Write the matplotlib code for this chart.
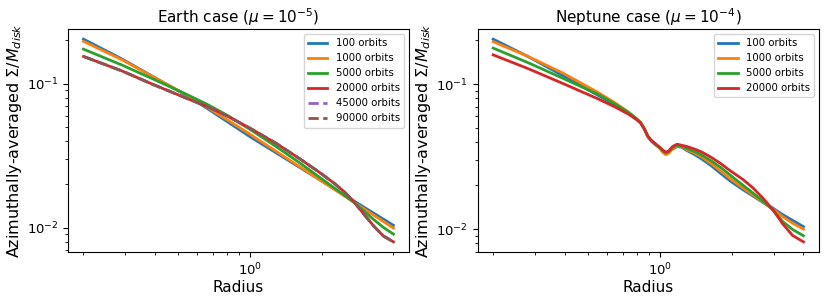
import numpy as np
import matplotlib
matplotlib.use('Agg')
import matplotlib.pyplot as plt

# radius samples
r_earth = [0.2, 0.29, 0.39, 0.55, 0.66, 0.8, 1.0, 1.29, 1.63, 1.98, 2.25, 2.48, 2.72, 3.0, 3.3, 3.63, 4.0]
r_nep = [0.2, 0.28, 0.39, 0.55, 0.65, 0.74, 0.8, 0.83, 0.86, 0.89, 0.92, 0.95, 0.99, 1.03, 1.06, 1.09,
         1.13, 1.18, 1.23, 1.3, 1.4, 1.5, 1.65, 1.8, 1.97, 2.23, 2.46, 2.7, 2.97, 3.27, 3.6, 4.0]

# Earth case (mu = 1e-5)
e_100 = [0.203, 0.148, 0.1121, 0.0814, 0.0673, 0.0546, 0.0428, 0.0330, 0.02598, 0.02129, 0.01869,
         0.01692, 0.0154, 0.01394, 0.01265, 0.01148, 0.0104]
e_1000 = [0.196, 0.146, 0.1120, 0.0822, 0.0685, 0.0562, 0.0445, 0.0338, 0.02625, 0.02128, 0.01853,
          0.01669, 0.0151, 0.01358, 0.01226, 0.01106, 0.00996]
e_5000 = [0.173, 0.1343, 0.1079, 0.0831, 0.0718, 0.0604, 0.0481, 0.0365, 0.0279, 0.0221, 0.01897,
          0.0169, 0.01507, 0.01313, 0.01144, 0.01006, 0.00904]
e_20000 = [0.154, 0.1223, 0.0988, 0.0782, 0.0693, 0.0597, 0.0490, 0.0384, 0.02983, 0.02389, 0.02042,
           0.01785, 0.01526, 0.01248, 0.01031, 0.00877, 0.00799]
e_45000 = [0.154, 0.1223, 0.0988, 0.0782, 0.0693, 0.0597, 0.0490, 0.0384, 0.02983, 0.02389, 0.02042,
           0.01785, 0.01526, 0.01248, 0.01031, 0.00877, 0.00799]
e_90000 = [0.154, 0.1223, 0.0988, 0.0782, 0.0693, 0.0597, 0.0490, 0.0384, 0.02983, 0.02389, 0.02042,
           0.01785, 0.01526, 0.01248, 0.01031, 0.00877, 0.00799]

# Neptune case (mu = 1e-4), gap carved near r = 1
n_100 = [0.204, 0.1548, 0.1149, 0.0837, 0.0715, 0.0628, 0.0570, 0.0540, 0.0489, 0.0433, 0.0404, 0.0386,
         0.0366, 0.0345, 0.0334, 0.0341, 0.0356, 0.0370, 0.0368, 0.0348, 0.0326, 0.0304, 0.0272, 0.0242,
         0.0215, 0.0187, 0.0169, 0.0153, 0.0140, 0.0126, 0.0115, 0.0104]
n_1000 = [0.196, 0.155, 0.1196, 0.0876, 0.0740, 0.0640, 0.0575, 0.0543, 0.0493, 0.0437, 0.0407, 0.0389,
          0.0367, 0.0337, 0.0326, 0.0334, 0.0359, 0.0373, 0.0371, 0.0353, 0.0334, 0.0314, 0.0281, 0.0251,
          0.0223, 0.0192, 0.0172, 0.0154, 0.0138, 0.0122, 0.0110, 0.0100]
n_5000 = [0.177, 0.1405, 0.1100, 0.0850, 0.0727, 0.0636, 0.0575, 0.0543, 0.0494, 0.0438, 0.0408, 0.0390,
          0.0369, 0.0346, 0.0335, 0.0343, 0.0365, 0.0379, 0.0373, 0.0359, 0.0342, 0.0324, 0.0294, 0.0266,
          0.0236, 0.0201, 0.0177, 0.0156, 0.0136, 0.0113, 0.00995, 0.0090]
n_20000 = [0.159, 0.1278, 0.1013, 0.0791, 0.0694, 0.0619, 0.0568, 0.0540, 0.0492, 0.0438, 0.0410, 0.0392,
           0.0371, 0.0350, 0.0339, 0.0347, 0.0371, 0.0385, 0.0379, 0.0371, 0.0356, 0.0340, 0.0311, 0.0283,
           0.0253, 0.0220, 0.0192, 0.0164, 0.0137, 0.0109, 0.00905, 0.00817]

fig = plt.figure(figsize=(8.3, 2.97), dpi=100)
ax1 = fig.add_axes([0.0819, 0.1515, 0.4108, 0.7508])
ax2 = fig.add_axes([0.5755, 0.1515, 0.4112, 0.7508])

lw = 2.0
ax1.plot(r_earth, e_100, color='C0', lw=lw, label='100 orbits')
ax1.plot(r_earth, e_1000, color='C1', lw=lw, label='1000 orbits')
ax1.plot(r_earth, e_5000, color='C2', lw=lw, label='5000 orbits')
ax1.plot(r_earth, e_20000, color='C3', lw=lw, label='20000 orbits')
ax1.plot(r_earth, e_45000, color='C4', lw=lw, ls='--', label='45000 orbits')
ax1.plot(r_earth, e_90000, color='C5', lw=lw, ls='--', label='90000 orbits')

ax2.plot(r_nep, n_100, color='C0', lw=lw, label='100 orbits')
ax2.plot(r_nep, n_1000, color='C1', lw=lw, label='1000 orbits')
ax2.plot(r_nep, n_5000, color='C2', lw=lw, label='5000 orbits')
ax2.plot(r_nep, n_20000, color='C3', lw=lw, label='20000 orbits')

titles = [r'Earth case ($\mu=10^{-5}$)', r'Neptune case ($\mu=10^{-4}$)']
for ax, t in zip([ax1, ax2], titles):
    ax.set_xscale('log')
    ax.set_yscale('log')
    ax.set_title(t, fontsize=11, pad=4)
    ax.set_xlabel('Radius', fontsize=11, labelpad=1)
    ax.set_ylabel(r'Azimuthally-averaged $\Sigma/M_{disk}$', fontsize=11.5, labelpad=2)
    ax.tick_params(labelsize=9.5)
    ax.legend(loc='upper right', fontsize=7.3, handlelength=1.9)

plt.savefig('out.png', dpi=100)
